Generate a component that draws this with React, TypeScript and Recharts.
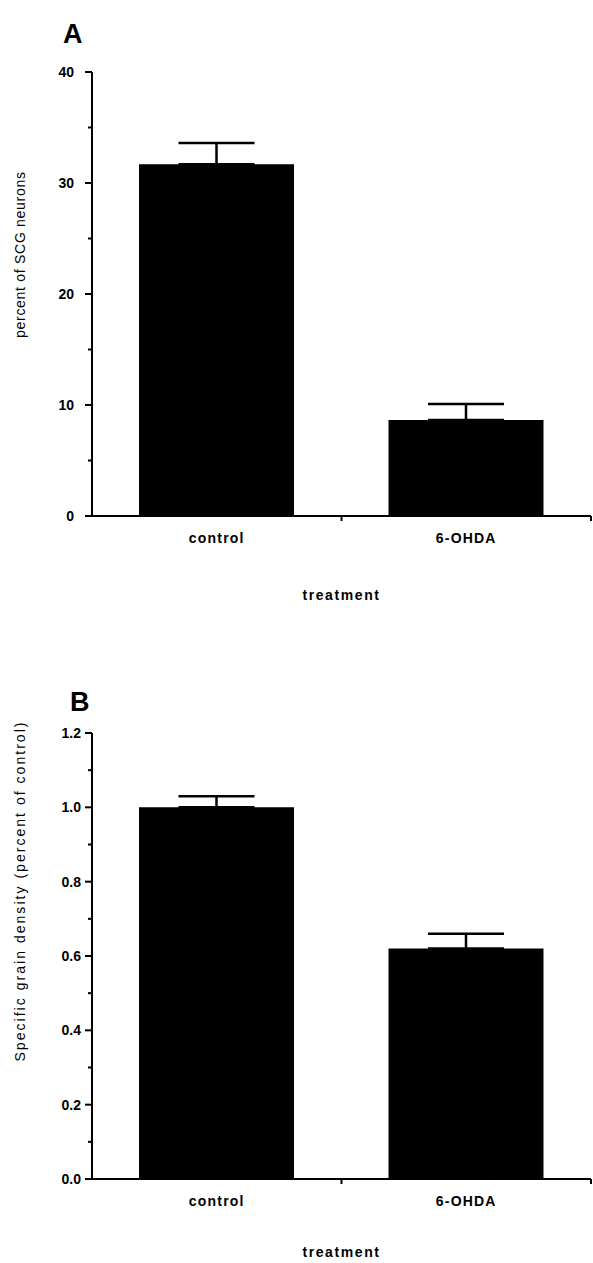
import React from "react";
import { BarChart, Bar, XAxis, YAxis, ErrorBar, Label } from "recharts";

// panel A: percent of SCG neurons
const categories = ["control", "6-OHDA"];
const neuronPercent = [31.7, 8.65];
const neuronPercentErr = [1.9, 1.45];
const neuronTicks = [0, 5, 10, 15, 20, 25, 30, 35, 40];
const neuronLabels = [0, 10, 20, 30, 40];

// panel B: specific grain density
const grainDensity = [1.0, 0.62];
const grainDensityErr = [0.03, 0.04];
const densityTicks = [0, 0.1, 0.2, 0.3, 0.4, 0.5, 0.6, 0.7, 0.8, 0.9, 1.0, 1.1, 1.2];
const densityLabels = [0, 0.2, 0.4, 0.6, 0.8, 1.0, 1.2];

const FONT = '"Liberation Sans", Arial, Helvetica, sans-serif';
const W = 593;
const AXIS_X = 92;
const RIGHT = 2;
const X_AXIS_H = 30;
const HALF_BAND = (W - AXIS_X - RIGHT) / categories.length / 2;

const makeYTick =
  (labels: number[], fmt: (v: number) => string, gap: number) => (props: any) => {
    const { x, y, payload } = props;
    const major = labels.some((l) => Math.abs(l - payload.value) < 1e-9);
    return (
      <g>
        <line
          x1={x - (major ? 7 : 4)}
          x2={x}
          y1={y}
          y2={y}
          stroke="#000"
          strokeWidth={2}
        />
        {major && (
          <text
            x={x - gap}
            y={y}
            dy={5}
            textAnchor="end"
            fontFamily={FONT}
            fontWeight={700}
            fontSize={14}
            fill="#000"
          >
            {fmt(payload.value)}
          </text>
        )}
      </g>
    );
  };

const XTick = (props: any) => {
  const { x, y, payload } = props;
  return (
    <g>
      <line
        x1={x + HALF_BAND}
        x2={x + HALF_BAND}
        y1={y}
        y2={y + 5}
        stroke="#000"
        strokeWidth={2}
      />
      <text
        x={x}
        y={y + 27}
        textAnchor="middle"
        fontFamily={FONT}
        fontWeight={700}
        fontSize={14}
        letterSpacing={1.2}
        fill="#000"
      >
        {payload.value}
      </text>
    </g>
  );
};

type PanelProps = {
  values: number[];
  errors: number[];
  top: number;
  height: number;
  plotTop: number;
  plotBottom: number;
  domain: [number, number];
  ticks: number[];
  labels: number[];
  fmt: (v: number) => string;
  gap: number;
  title: string;
  titleY: number;
  titleLen: number;
  letter: string;
  letterX: number;
  letterY: number;
  treatmentDy: number;
};

function Panel(p: PanelProps) {
  const data = categories.map((name, i) => ({
    name,
    value: p.values[i],
    err: [0, p.errors[i]],
  }));
  return (
    <div style={{ position: "absolute", left: 0, top: p.top }}>
      <BarChart
        width={W}
        height={p.height}
        data={data}
        margin={{
          top: p.plotTop,
          right: RIGHT,
          left: 0,
          bottom: p.height - p.plotBottom - X_AXIS_H,
        }}
      >
        <XAxis
          dataKey="name"
          height={X_AXIS_H}
          axisLine={{ stroke: "#000", strokeWidth: 2 }}
          tickLine={false}
          tickSize={0}
          tickMargin={0}
          tick={<XTick />}
          interval={0}
        >
          <Label
            content={(props: any) => {
              const vb = props.viewBox;
              return (
                <text
                  x={vb.x + vb.width / 2}
                  y={vb.y + p.treatmentDy}
                  textAnchor="middle"
                  fontFamily={FONT}
                  fontWeight={700}
                  fontSize={14}
                  letterSpacing={1.6}
                  fill="#000"
                >
                  treatment
                </text>
              );
            }}
          />
        </XAxis>
        <YAxis
          width={AXIS_X}
          domain={p.domain}
          ticks={p.ticks}
          interval={0}
          allowDataOverflow
          axisLine={{ stroke: "#000", strokeWidth: 2 }}
          tickLine={false}
          tickSize={0}
          tickMargin={0}
          tick={makeYTick(p.labels, p.fmt, p.gap)}
        >
          <Label
            content={() => (
              <g>
                <text
                  x={p.letterX}
                  y={p.letterY}
                  fontFamily={FONT}
                  fontWeight={700}
                  fontSize={27}
                  fill="#000"
                >
                  {p.letter}
                </text>
                <text
                  transform={`translate(25, ${p.titleY}) rotate(-90)`}
                  textAnchor="middle"
                  fontFamily={FONT}
                  fontSize={14}
                  textLength={p.titleLen}
                  lengthAdjust="spacing"
                  fill="#000"
                >
                  {p.title}
                </text>
              </g>
            )}
          />
        </YAxis>
        <Bar dataKey="value" fill="#000" barSize={155} isAnimationActive={false}>
          <ErrorBar
            dataKey="err"
            direction="y"
            width={38}
            stroke="#000"
            strokeWidth={2.5}
            isAnimationActive={false}
          />
        </Bar>
      </BarChart>
    </div>
  );
}

export default function App() {
  return (
    <div
      style={{
        position: "absolute",
        left: 0,
        top: 0,
        width: W,
        height: 1263,
        background: "#fff",
      }}
    >
      <Panel
        values={neuronPercent}
        errors={neuronPercentErr}
        top={0}
        height={640}
        plotTop={72}
        plotBottom={516}
        domain={[0, 40]}
        ticks={neuronTicks}
        labels={neuronLabels}
        fmt={(v) => String(v)}
        gap={18}
        title="percent of SCG neurons"
        titleY={255}
        titleLen={166}
        letter="A"
        letterX={63}
        letterY={43}
        treatmentDy={84}
      />
      <Panel
        values={grainDensity}
        errors={grainDensityErr}
        top={640}
        height={623}
        plotTop={93}
        plotBottom={539}
        domain={[0, 1.2]}
        ticks={densityTicks}
        labels={densityLabels}
        fmt={(v) => v.toFixed(1)}
        gap={11}
        title="Specific grain density (percent of control)"
        titleY={252}
        titleLen={339}
        letter="B"
        letterX={70}
        letterY={71}
        treatmentDy={78}
      />
    </div>
  );
}
